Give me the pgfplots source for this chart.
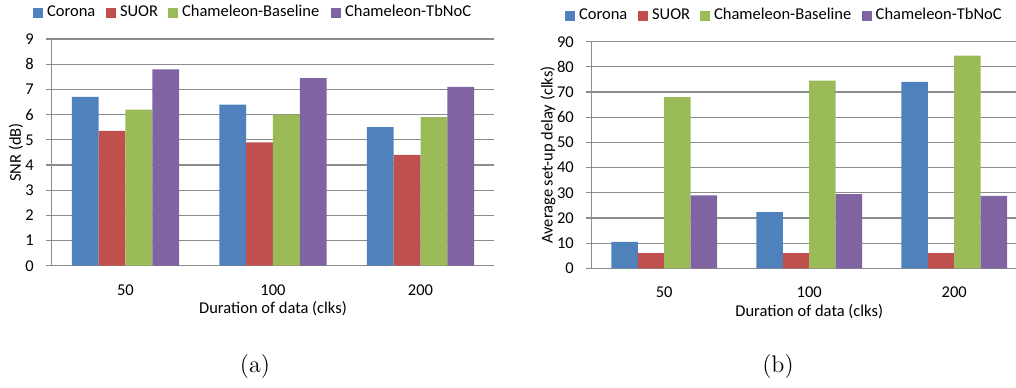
\documentclass[border=0pt]{standalone}
\usepackage{fontspec}
\newfontfamily\calibri{Carlito}
\usepackage{pgfplots}
\pgfplotsset{compat=1.18}
\definecolor{xblue}{HTML}{4F81BD}
\definecolor{xred}{HTML}{C0504D}
\definecolor{xgreen}{HTML}{9BBB59}
\definecolor{xpurple}{HTML}{8064A2}
\definecolor{gridgray}{HTML}{8C8C8C}
\newcommand{\chartfont}{\calibri\fontsize{8.25}{9.9}\selectfont}
% fixed-width legend entries, so the legend items sit where Excel put them
\newcommand{\lentry}[2]{\makebox[#1][l]{\hspace{1.85pt}#2}}
\pgfplotsset{
  excelbar/.style={
    scale only axis,
    ybar=0pt,
    bar width=0.182,
    xmin=-0.5,
    xtick={0,1,2},
    xticklabels={50,100,200},
    xtick style={draw=none},
    axis lines=left,
    axis line style={-, draw=gridgray, line width=0.6pt},
    ytick style={draw=gridgray, line width=0.6pt},
    tick align=outside,
    major tick length=2.8pt,
    ymajorgrids,
    grid style={draw=gridgray, line width=0.6pt},
    ymin=0,
    /pgf/number format/assume math mode=true,
    every tick label/.append style={font=\chartfont, text=black},
    yticklabel style={xshift=-2.6pt},
    xticklabel style={yshift=-3pt},
    legend columns=4,
    legend cell align=left,
    legend style={draw=none, fill=none, inner sep=0pt, anchor=west, font=\chartfont,
      column sep=0pt, nodes={inner sep=0pt}},
    legend image code/.code={\fill[##1] (0pt,-2.5pt) rectangle (5pt,2.5pt);},
  },
}
\begin{document}
\begin{tikzpicture}
\path[use as bounding box] (0pt,0pt) rectangle (508pt,193.5pt);

% (a) SNR
\begin{axis}[excelbar,
  at={(25.85pt,60.65pt)}, anchor=south west,
  width=221.3pt, height=113.35pt,
  xmax=2.5, ymax=9, ytick={0,1,...,9},
  xlabel={Duration of data (clks)},
  ylabel={SNR (dB)},
  every axis x label/.style={at={(axis description cs:0.5,-0.188)}, anchor=center, font=\chartfont},
  every axis y label/.style={at={(axis description cs:-0.0807,0.5)}, rotate=90, anchor=center, font=\chartfont},
  legend style={at={(axis description cs:-0.0423,1.116)}},
]
\addplot[fill=xblue, draw=none] coordinates {(0,6.7) (1,6.4) (2,5.5)};
\addplot[fill=xred, draw=none] coordinates {(0,5.35) (1,4.9) (2,4.4)};
\addplot[fill=xgreen, draw=none] coordinates {(0,6.2) (1,6.0) (2,5.9)};
\addplot[fill=xpurple, draw=none] coordinates {(0,7.8) (1,7.45) (2,7.1)};
\legend{\lentry{31.5pt}{Corona},\lentry{26pt}{SUOR},\lentry{76.5pt}{Chameleon-Baseline},\lentry{66pt}{Chameleon-TbNoC}}
\end{axis}

% (b) set-up delay
\begin{axis}[excelbar,
  at={(295.85pt,59.35pt)}, anchor=south west,
  width=212.15pt, height=113.3pt,
  xmax=2.426, ymax=90, ytick={0,10,...,90},
  xlabel={Duration of data (clks)},
  ylabel={Average set-up delay (clks)},
  every axis x label/.style={at={(axis description cs:0.5126,-0.1915)}, anchor=center, font=\chartfont},
  every axis y label/.style={at={(axis description cs:-0.103,0.5)}, rotate=90, anchor=center, font=\chartfont},
  legend style={at={(axis description cs:-0.0629,1.1147)}},
]
\addplot[fill=xblue, draw=none] coordinates {(0,10.5) (1,22.3) (2,74)};
\addplot[fill=xred, draw=none] coordinates {(0,6) (1,6) (2,6)};
\addplot[fill=xgreen, draw=none] coordinates {(0,68) (1,74.5) (2,84.5)};
\addplot[fill=xpurple, draw=none] coordinates {(0,29) (1,29.5) (2,28.8)};
\legend{\lentry{31.5pt}{Corona},\lentry{26pt}{SUOR},\lentry{75.8pt}{Chameleon-Baseline},\lentry{66pt}{Chameleon-TbNoC}}
\end{axis}

\node[font=\fontsize{12}{14}\selectfont] at (127.5pt,10pt) {(a)};
\node[font=\fontsize{12}{14}\selectfont] at (389pt,10pt) {(b)};
\end{tikzpicture}
\end{document}
